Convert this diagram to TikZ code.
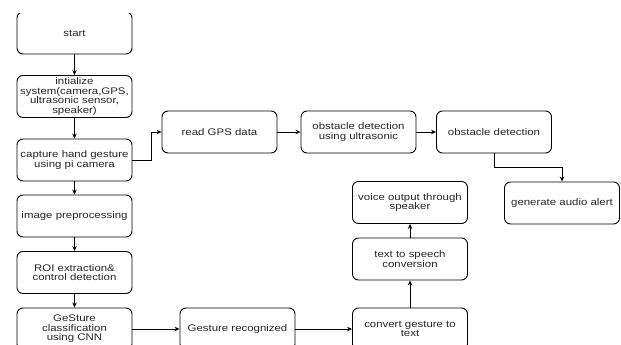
\documentclass[tikz,border=0pt]{standalone}
\usepackage{fontspec}
\setmainfont[FakeStretch=1.19]{Liberation Sans}
\usetikzlibrary{arrows.meta,calc}
\begin{document}
\begin{tikzpicture}[x=1pt,y=-1pt,
  box/.style={draw=black,line width=0.9pt,rounded corners=6pt,minimum width=115pt,minimum height=42pt,
    inner sep=0pt,text width=112pt,align=center,font=\fontsize{9.6}{9.4}\selectfont,text=black!85},
  conn/.style={draw=black,line width=0.9pt,-{Stealth[length=5pt,width=4.5pt]}}]
\useasboundingbox (0,0) rectangle (621,345);
\clip (0,14) rectangle (621,345);
\node[box] (start) at (74.5,33) {start};
\node[box] (init) at (74.5,96.5) {intialize\\system(camera,GPS,\\ultrasonic sensor,\\speaker)};
\node[box] (capture) at (74.5,160) {capture hand gesture\\using pi camera};
\node[box] (prep) at (74.5,216) {image preprocessing};
\node[box] (roi) at (74.5,272.5) {ROI extraction\&\\control detection};
\node[box] (cnn) at (74.5,329) {GeSture\\classification\\using CNN};
\node[box] (gps) at (219.5,132) {read GPS data};
\node[box] (ultra) at (358.5,132) {obstacle detection\\using ultrasonic};
\node[box] (obst) at (494,132) {obstacle detection};
\node[box] (audio) at (562,203) {generate audio alert};
\node[box] (recog) at (237.5,329) {Gesture recognized};
\node[box] (conv) at (410,329) {convert gesture to\\text};
\node[box] (tts) at (410,259) {text to speech\\conversion};
\node[box] (voice) at (410,202.5) {voice output through\\speaker};
\draw[conn] (start) -- (init);
\draw[conn] (init) -- (capture);
\draw[conn] (capture) -- (prep);
\draw[conn] (prep) -- (roi);
\draw[conn] (roi) -- (cnn);
\draw[conn] (capture.east) -- ++(19,0) |- (gps.west);
\draw[conn] (gps) -- (ultra);
\draw[conn] (ultra) -- (obst);
\draw[conn] (obst.south) -- (obst.south |- 0,167) -| (audio.north);
\draw[conn] (cnn) -- (recog);
\draw[conn] (recog) -- (conv);
\draw[conn] (conv) -- (tts);
\draw[conn] (tts) -- (voice);
\end{tikzpicture}
\end{document}
